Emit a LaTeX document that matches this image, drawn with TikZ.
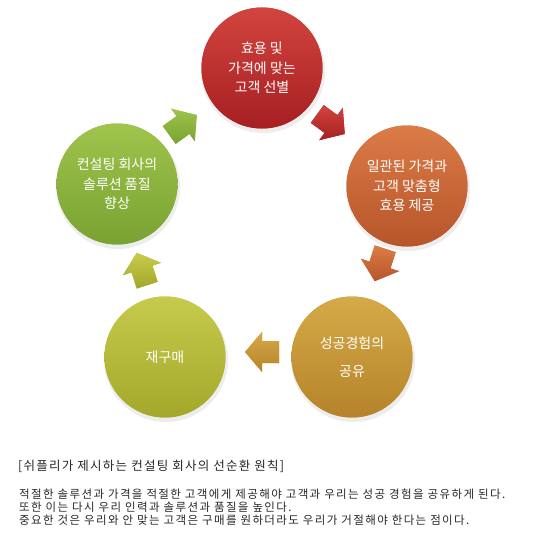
\documentclass[tikz,border=0pt]{standalone}
\usepackage{fontspec}
\setmainfont{Noto Sans CJK KR}
\newfontfamily\capfont{Noto Sans CJK KR}[LetterSpace=12]
\newfontfamily\titlefont{Noto Sans CJK KR}[LetterSpace=10]

\definecolor{redtop}{HTML}{D2443E}
\definecolor{redbot}{HTML}{A61F22}
\definecolor{orgtop}{HTML}{DB7C47}
\definecolor{orgbot}{HTML}{B6552A}
\definecolor{goldtop}{HTML}{D6AA48}
\definecolor{goldbot}{HTML}{B5832A}
\definecolor{limetop}{HTML}{C6CB4C}
\definecolor{limebot}{HTML}{A3A82B}
\definecolor{grntop}{HTML}{A0C44C}
\definecolor{grnbot}{HTML}{78A232}
\definecolor{txtgray}{HTML}{262626}

\begin{document}
\begin{tikzpicture}[x=1pt,y=-1pt,line join=round,
  cyc/.style={circle,minimum size=121pt,inner sep=0pt,align=center,text=white,
    font=\fontsize{14}{19.5}\selectfont},
  tint/.style 2 args={preaction={fill=#1!50!#2},top color=#1,bottom color=#2},
  shad/.style={fill=black,opacity=0.07},
  blockarr/.style={line width=0pt}]
\useasboundingbox (0,0) rectangle (540,551);
%\draw [color=black!20, xstep=50,ystep=50] (0,0) grid (540,551);

% soft shadows under the circles
\fill[shad] (263,71) circle (62);
\fill[shad] (408,189) circle (62);
\fill[shad] (353,360) circle (62);
\fill[shad] (166,360) circle (62);
\fill[shad] (118,187) circle (62);

% circles of the cycle
\node[cyc,tint={redtop}{redbot}] (sel) at (262,68) {효용 및\\가격에 맞는\\고객 선별};
\node[cyc,tint={orgtop}{orgbot}] (offer) at (407,186) {일관된 가격과\\고객 맞춤형\\효용 제공};
\node[cyc,tint={goldtop}{goldbot},font=\fontsize{14}{28}\selectfont] (share) at (352,357) {성공경험의\\공유};
\node[cyc,tint={limetop}{limebot}] (rebuy) at (165,357) {재구매};
\node[cyc,tint={grntop}{grnbot}] (qual) at (117,184) {컨설팅 회사의\\솔루션 품질\\향상};

% block arrows between the circles
\path[blockarr,tint={redtop}{redbot},shift={(331,124)},rotate=-36] (-17,-11) -- (0,-11) -- (0,-20) -- (17,0) -- (0,20) -- (0,11) -- (-17,11) -- cycle;
\path[blockarr,tint={orgtop}{orgbot},shift={(380,265)},rotate=-108] (-17,-11) -- (0,-11) -- (0,-20) -- (17,0) -- (0,20) -- (0,11) -- (-17,11) -- cycle;
\path[blockarr,tint={goldtop}{goldbot},shift={(262,352)},rotate=180] (-17,-11) -- (0,-11) -- (0,-20) -- (17,0) -- (0,20) -- (0,11) -- (-17,11) -- cycle;
\path[blockarr,tint={limetop}{limebot},shift={(142,269)},rotate=108] (-17,-11) -- (0,-11) -- (0,-20) -- (17,0) -- (0,20) -- (0,11) -- (-17,11) -- cycle;
\path[blockarr,tint={grntop}{grnbot},shift={(183,125)},rotate=36] (-17,-11) -- (0,-11) -- (0,-20) -- (17,0) -- (0,20) -- (0,11) -- (-17,11) -- cycle;

% caption below
\node[anchor=west,inner sep=0pt,text=txtgray,font=\titlefont\fontsize{12.5}{15}\selectfont] (title) at (18,466) {[쉬플리가 제시하는 컨설팅 회사의 선순환 원칙]};
\node[anchor=north west,align=left,inner sep=0pt,text=txtgray,font=\capfont\fontsize{11.5}{13}\selectfont] (body) at (19,489) {적절한 솔루션과 가격을 적절한 고객에게 제공해야 고객과 우리는 성공 경험을 공유하게 된다.\\또한 이는 다시 우리 인력과 솔루션과 품질을 높인다.\\중요한 것은 우리와 안 맞는 고객은 구매를 원하더라도 우리가 거절해야 한다는 점이다.};
\end{tikzpicture}
\end{document}
